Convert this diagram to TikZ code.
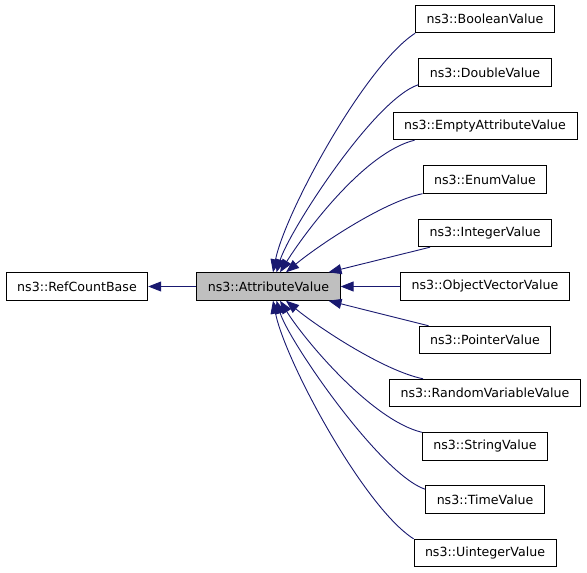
\documentclass[tikz,border=0pt]{standalone}
\usepackage{fontspec}
\setmainfont{DejaVu Sans}
\usetikzlibrary{arrows.meta}
\definecolor{edgeblue}{RGB}{25,25,112}
\definecolor{basegray}{RGB}{191,191,191}
\begin{document}
\begin{tikzpicture}[x=1pt, y=-1pt,
    cls/.style={draw, line width=0.9pt, inner xsep=11pt, inner ysep=0pt,
      minimum height=27.5pt, font=\fontsize{12.6}{14}\selectfont},
    inh/.style={{Triangle[length=13pt,width=10pt]}-, draw=edgeblue, line width=0.9pt}]
  \useasboundingbox (0,0) rectangle (587,573);

    \node[cls] (RCB) at (77,286.5) {ns3::RefCountBase};
    \node[cls, fill=basegray] (AV) at (268.5,286.5) {ns3::AttributeValue};

    \node[cls] (BV) at (485,19) {ns3::BooleanValue};
    \node[cls] (DV) at (485,72.5) {ns3::DoubleValue};
    \node[cls] (EAV) at (485,126) {ns3::EmptyAttributeValue};
    \node[cls] (EV) at (485,179.5) {ns3::EnumValue};
    \node[cls] (IV) at (485,233) {ns3::IntegerValue};
    \node[cls] (OVV) at (485,286.5) {ns3::ObjectVectorValue};
    \node[cls] (PV) at (485,340) {ns3::PointerValue};
    \node[cls] (RVV) at (485,393) {ns3::RandomVariableValue};
    \node[cls] (SV) at (485,446.5) {ns3::StringValue};
    \node[cls] (TV) at (485,499.5) {ns3::TimeValue};
    \node[cls] (UV) at (485,553) {ns3::UintegerValue};

    \draw [inh] (RCB) -- (AV);

    % upper children
    \draw [inh] ([xshift=4.5pt]AV.north) .. controls +(12,-60) and +(-50,32) .. (BV.south west);
    \draw [inh] ([xshift=8pt]AV.north) .. controls +(12,-40) and +(-45,15) .. ([yshift=2pt]DV.south west);
    \draw [inh] ([xshift=11.5pt]AV.north) .. controls +(25,-40) and +(-50,12) .. ([xshift=22pt]EAV.south west);
    \draw [inh] ([xshift=17.5pt]AV.north) .. controls +(30,-25) and +(-40,8) .. (EV.south west);
    \draw [inh] ([xshift=60pt]AV.north) -- ([xshift=12pt]IV.south west);
    \draw [inh] (AV) -- (OVV);

    % lower children
    \draw [inh] ([xshift=60pt]AV.south) -- ([xshift=10pt]PV.north west);
    \draw [inh] ([xshift=17.5pt]AV.south) .. controls +(30,25) and +(-40,-8) .. ([xshift=34pt]RVV.north west);
    \draw [inh] ([xshift=11.5pt]AV.south) .. controls +(25,40) and +(-50,-12) .. (SV.north west);
    \draw [inh] ([xshift=8pt]AV.south) .. controls +(12,40) and +(-45,-15) .. ([yshift=-4pt]TV.north west);
    \draw [inh] ([xshift=4.5pt]AV.south) .. controls +(12,60) and +(-50,-32) .. (UV.north west);

\end{tikzpicture}
\end{document}
